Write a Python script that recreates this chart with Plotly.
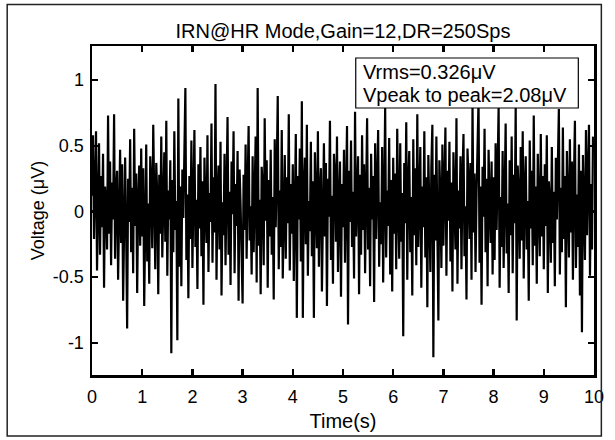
import plotly.graph_objects as go

# ---- data (read/estimated from the picture) ----
sample_step = 0.02  # s between plotted samples
v_sec0 = [0.12, 0.58, -0.21, 0.34, 0.61, -0.45, 0.08, 0.52, -0.33, 0.27,
          -0.12, 0.44, -0.58, 0.19, 0.05, -0.29, 0.73, -0.17, 0.38, -0.41,
          0.22, -0.06, 0.74, -0.36, 0.15, 0.31, -0.52, 0.09, 0.47, -0.24,
          0.36, -0.68, 0.02, 0.41, -0.15, -0.89, 0.25, -0.08, 0.55, -0.31,
          0.18, -0.47, 0.63, -0.11, 0.29, -0.62, 0.07, 0.35, -0.26, 0.48]
v_sec1 = [-0.19, 0.33, -0.72, 0.14, 0.51, -0.38, 0.06, -0.55, 0.42, 0.21,
          -0.28, 0.66, -0.09, -0.44, 0.37, 0.12, -0.63, 0.28, -0.17, 0.57,
          -0.35, 0.04, 0.45, -0.23, 0.69, -0.49, 0.16, -0.06, 0.39, -1.08,
          0.24, -0.31, 0.61, -0.14, 0.08, -0.98, 0.86, -0.42, 0.19, -0.57,
          0.32, -0.05, 0.48, 0.94, -0.37, 0.13, -0.66, 0.27, -0.21, 0.54]
v_sec2 = [-0.43, 0.17, 0.62, -0.27, 0.09, -0.59, 0.36, -0.13, 0.49, -0.34,
          0.23, -0.71, 0.41, 0.03, -0.24, 0.58, -0.46, 0.14, -0.08, 0.67,
          -0.39, 0.26, -0.16, 0.97, -0.52, 0.11, 0.35, -0.29, 0.53, -0.64,
          0.07, -0.18, 0.44, -0.41, 0.29, 0.72, -0.33, 0.15, -0.56, 0.38,
          -0.02, 0.61, -0.47, 0.21, -0.11, 0.46, -0.68, 0.32, 0.05, -0.37]
v_sec3 = [-0.70, 0.28, -0.14, 0.51, -0.36, 0.19, 0.65, -0.22, 0.04, -0.48,
          0.42, -0.31, 0.13, 0.57, -0.54, 0.94, -0.26, 0.09, -0.63, 0.34,
          0.18, -0.41, 0.71, -0.07, 0.39, -0.58, 0.24, -0.19, 0.47, -0.33,
          0.11, -0.67, 0.55, -0.12, 0.31, 0.88, -0.44, 0.16, -0.27, 0.62,
          -0.51, 0.07, 0.43, -0.36, 0.26, -0.09, 0.74, -0.45, 0.21, -0.17]
v_sec4 = [0.36, -0.53, 0.14, 0.59, -0.81, 0.27, -0.06, 0.48, -0.38, 0.84,
          -0.81, 0.19, 0.41, -0.25, 0.66, -0.49, 0.08, -0.15, 0.53, -0.34,
          0.23, -0.81, 0.45, 0.02, -0.28, 0.61, -0.42, 0.17, 0.33, -0.61,
          0.09, 0.52, -0.19, 0.37, -0.72, 0.25, -0.04, 0.69, -0.37, 0.12,
          -0.55, 0.44, 0.28, -0.23, 0.57, -0.46, 0.06, 0.38, -0.65, 0.21]
v_sec5 = [-0.12, 0.47, -0.39, 0.23, 0.65, -0.86, 0.31, -0.08, 0.54, -0.27,
          0.15, -0.51, 0.76, -0.19, 0.04, 0.42, -0.63, 0.28, -0.33, 0.58,
          -0.14, 0.36, -0.47, 0.09, 0.71, -0.29, 0.18, -0.57, 0.44, -0.06,
          0.27, -0.69, 0.52, -0.21, 0.13, 0.62, -0.42, 0.07, -0.25, 0.49,
          -0.54, 0.32, 0.79, -0.35, 0.16, -0.11, 0.56, -0.48, 0.24, -0.61]
v_sec6 = [0.41, -0.17, 0.29, -0.44, 0.63, 0.05, -0.36, 0.52, -0.23, 0.14,
          -0.95, 0.37, -0.09, 0.68, -0.52, 0.21, 0.46, -0.31, 0.11, -0.64,
          0.55, -0.18, 0.33, -0.41, 0.74, -0.27, 0.08, 0.49, -0.58, 0.19,
          -0.12, 0.61, -0.35, 0.26, -0.73, 0.43, 0.02, -0.46, 0.34, 0.66,
          -1.11, 0.28, -0.22, 0.57, -0.15, -0.83, 0.39, 0.12, -0.43, 0.51]
v_sec7 = [-0.26, 0.18, 0.64, -0.49, 0.31, -0.07, 0.53, -0.38, 0.22, -0.61,
          0.45, 0.09, -0.29, 0.71, -0.55, 0.16, -0.13, 0.42, -0.44, 0.27,
          0.59, -0.34, 0.04, -0.67, 0.48, 0.23, -0.21, 0.37, -0.52, 0.81,
          -0.16, 0.29, -0.46, 0.13, 0.56, 0.85, -0.39, 0.19, -0.71, 0.34,
          -0.04, 0.63, -0.31, 0.25, -0.57, 0.47, 0.07, -0.24, 0.38, -0.48]
v_sec8 = [0.26, -0.37, 0.52, -0.14, 0.33, 0.80, -0.58, 0.11, -0.27, 0.46,
          -0.43, 0.21, 0.67, -0.32, 0.06, -0.62, 0.39, -0.18, 0.57, -0.47,
          0.28, -0.09, 0.80, -0.83, 0.35, 0.14, -0.36, 0.49, -0.22, 0.61,
          -0.51, 0.17, 0.42, -0.29, 0.08, -0.68, 0.54, -0.13, 0.31, -0.41,
          0.73, -0.26, 0.19, -0.55, 0.44, 0.03, -0.34, 0.59, -0.19, 0.27]
v_sec9 = [-0.44, 0.36, -0.11, 0.58, -0.62, 0.23, 0.07, -0.39, 0.49, -0.24,
          0.15, -0.57, 0.41, -0.06, 0.32, 0.78, -0.48, 0.18, -0.31, 0.64,
          -0.21, 0.27, -0.73, 0.46, 0.09, -0.35, 0.55, -0.16, 0.38, -0.52,
          0.24, 0.69, -0.43, 0.13, -0.27, 0.51, -0.64, 0.31, -0.92, 0.43,
          0.05, -0.37, 0.62, -0.18, 0.28, 0.66, -0.49, 0.21, -0.29, 0.57]

x_ticks = [0, 1, 2, 3, 4, 5, 6, 7, 8, 9, 10]
y_ticks = [-1, -0.5, 0, 0.5, 1]
y_tick_labels = ["-1", "-0.5", "0", "0.5", "1"]
title_text = "IRN@HR Mode,Gain=12,DR=250Sps"
stats_line1 = "Vrms=0.326μV"
stats_line2 = "Vpeak to peak=2.08μV"

voltage = (v_sec0 + v_sec1 + v_sec2 + v_sec3 + v_sec4 +
           v_sec5 + v_sec6 + v_sec7 + v_sec8 + v_sec9)
time = [i * sample_step for i in range(len(voltage))]

# ---- layout geometry (pixels) ----
W, H = 615, 440
L, R, T, B = 92, 604, 46, 375


def px(xp):
    return (xp - L) / (R - L)


def py(yp):
    return (B - yp) / (B - T)


FONT = "Liberation Sans, Arial, sans-serif"
FS_TICK = 18
FS_TEXT = 20

fig = go.Figure()
fig.add_trace(go.Scatter(x=time, y=voltage, mode="lines",
                         line=dict(color="black", width=2.2),
                         hoverinfo="skip", showlegend=False))

axis_common = dict(showline=True, linecolor="black", linewidth=2.5,
                   mirror="ticks", ticks="inside", ticklen=6, tickwidth=2.5,
                   tickcolor="black", showgrid=False, zeroline=False,
                   tickfont=dict(family=FONT, size=FS_TICK, color="black"))

fig.update_xaxes(range=[0, 10], tickvals=x_ticks, ticklabelstandoff=4,
                 title=dict(text="Time(s)", standoff=8,
                            font=dict(family=FONT, size=FS_TEXT, color="black")),
                 **axis_common)
fig.update_yaxes(range=[-1.245, 1.26], tickvals=y_ticks, ticktext=y_tick_labels,
                 ticklabelstandoff=2,
                 title=dict(text="Voltage (μV)", standoff=4,
                            font=dict(family=FONT, size=18, color="black")),
                 **axis_common)

fig.update_layout(
    width=W, height=H,
    margin=dict(l=L, r=W - R, t=T, b=H - B),
    paper_bgcolor="white", plot_bgcolor="white",
    title=dict(text=title_text, x=px((L + R) / 2), xref="paper", xanchor="center",
               y=1 - 31 / H, yref="container", yanchor="middle",
               font=dict(family=FONT, size=FS_TEXT, color="black")),
    shapes=[
        dict(type="rect", xref="paper", yref="paper",
             x0=px(361), x1=px(588), y0=py(108), y1=py(58),
             fillcolor="white", line=dict(color="black", width=1.2), layer="above"),
        dict(type="rect", xref="paper", yref="paper",
             x0=px(5.5), x1=px(611.5), y0=py(436), y1=py(4.5),
             fillcolor="rgba(0,0,0,0)", line=dict(color="#222", width=1.5),
             layer="above"),
    ],
    annotations=[
        dict(text=stats_line1, xref="paper", yref="paper", x=px(366), y=py(72),
             xanchor="left", yanchor="middle", align="left", showarrow=False,
             font=dict(family=FONT, size=FS_TEXT, color="black")),
        dict(text=stats_line2, xref="paper", yref="paper", x=px(366), y=py(95),
             xanchor="left", yanchor="middle", align="left", showarrow=False,
             font=dict(family=FONT, size=FS_TEXT, color="black")),
    ],
)

fig.write_html("out.html", config={"displayModeBar": False, "staticPlot": True})

# remove the default page margin so the figure sits at the window origin
with open("out.html", encoding="utf-8") as f:
    html = f.read()
html = html.replace("<head>", "<head><style>html,body{margin:0;padding:0;overflow:hidden;}</style>", 1)
with open("out.html", "w", encoding="utf-8") as f:
    f.write(html)
